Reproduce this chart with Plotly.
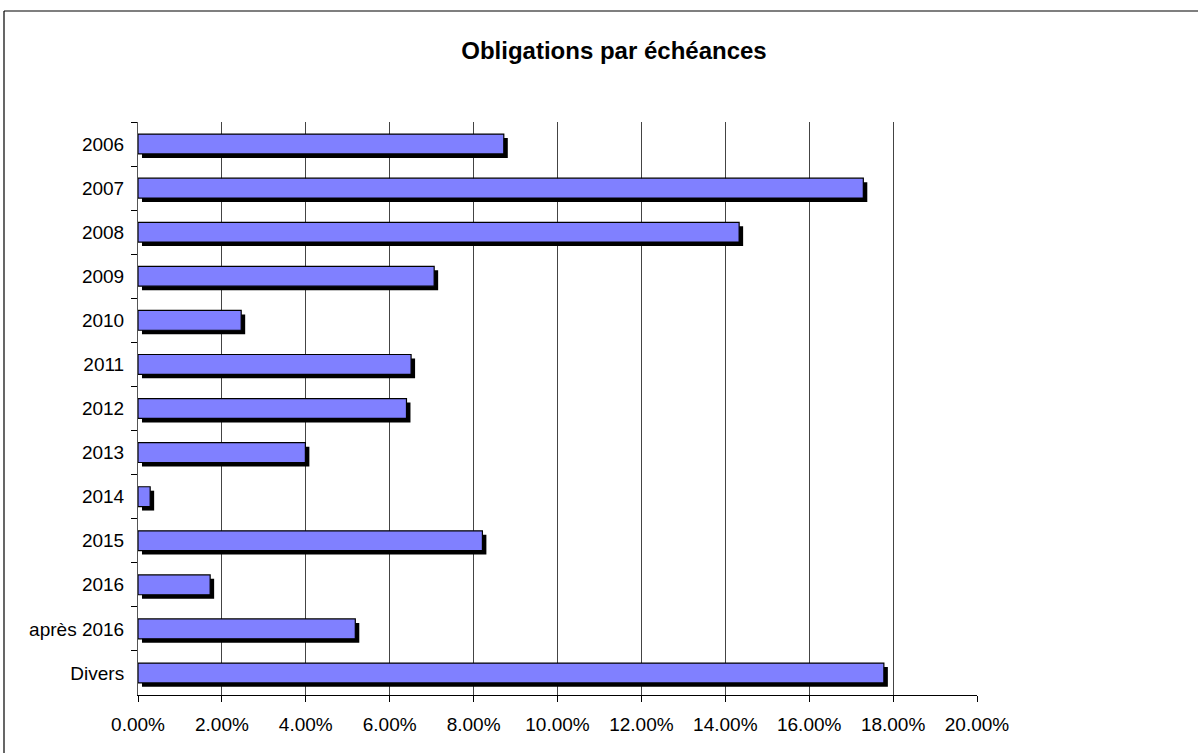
import plotly.graph_objects as go

categories = ["2006", "2007", "2008", "2009", "2010", "2011", "2012",
              "2013", "2014", "2015", "2016", "après 2016", "Divers"]
values = [0.0872, 0.1729, 0.1433, 0.0706, 0.0246, 0.0651, 0.0640,
          0.0399, 0.0029, 0.0821, 0.0172, 0.0518, 0.1778]
x_ticks = [0, 0.02, 0.04, 0.06, 0.08, 0.10, 0.12, 0.14, 0.16, 0.18, 0.20]
title_text = "Obligations par échéances"

W, H = 1198, 753
L, T = 138, 122
pw, ph = 839, 573
R, B = W - L - pw, H - T - ph

bar_w = 0.45
shadow_dx = 0.00095      # horizontal shadow shift (axis units)
shadow_dy = 0.09         # vertical shadow shift (category units)

font = "Liberation Sans, Arial, sans-serif"

fig = go.Figure()
fig.add_trace(go.Bar(
    y=categories, x=values, base=shadow_dx, orientation="h",
    width=bar_w, offset=-bar_w / 2 + shadow_dy,
    marker=dict(color="black", line=dict(width=0)),
    hoverinfo="skip", showlegend=False,
))
fig.add_trace(go.Bar(
    y=categories, x=values, orientation="h",
    width=bar_w, offset=-bar_w / 2,
    marker=dict(color="#8080FF", line=dict(color="black", width=1.2)),
    showlegend=False,
))

# outer frame (left and top edges)
fx0 = (4 - L) / pw
fy_top = 1 + (T - 11) / ph
fy_bot = -(B + 2) / ph
fx_right = 1 + (R + 2) / pw
fig.add_shape(type="line", xref="paper", yref="paper", x0=fx0, x1=fx0, y0=fy_bot, y1=fy_top,
              line=dict(color="black", width=1.2))
fig.add_shape(type="line", xref="paper", yref="paper", x0=fx0, x1=fx_right, y0=fy_top, y1=fy_top,
              line=dict(color="black", width=1.2))

fig.update_layout(
    width=W, height=H,
    margin=dict(l=L, r=R, t=T, b=B),
    paper_bgcolor="white", plot_bgcolor="white",
    barmode="overlay",
    title=dict(text="<b>" + title_text + "</b>", x=614 / W, xanchor="center",
               y=1 - 51 / H, yanchor="middle", yref="container",
               font=dict(family=font, size=24, color="black")),
    font=dict(family=font, size=19, color="black"),
    xaxis=dict(range=[0, 0.20], tickvals=x_ticks, tickformat=".2%",
               showgrid=True, gridcolor="#444444", gridwidth=1,
               showline=True, linecolor="black", linewidth=1,
               ticks="outside", ticklen=6, tickcolor="black",
               ticklabelstandoff=6,
               zeroline=False, fixedrange=True),
    yaxis=dict(autorange="reversed", type="category",
               showgrid=False, showline=True, linecolor="#555555", linewidth=1,
               ticks="outside", tickson="boundaries", ticklen=6, tickcolor="black",
               ticklabelstandoff=9,
               fixedrange=True),
)

fig.write_html("out.html", config={"displayModeBar": False},
               post_script="document.body.style.margin='0';document.body.style.overflow='hidden';")
